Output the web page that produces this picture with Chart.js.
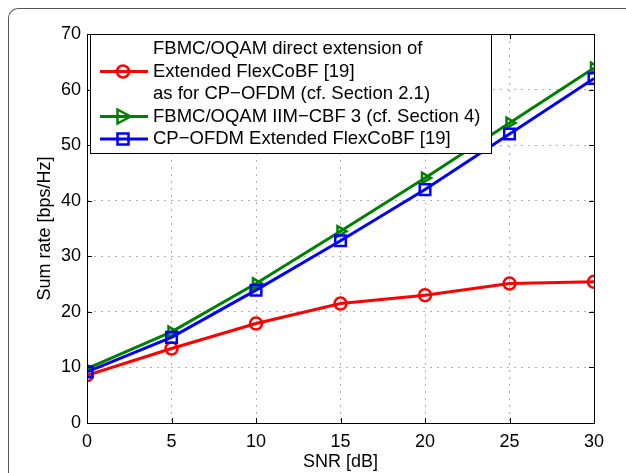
<!DOCTYPE html>
<html>
<head>
<meta charset="utf-8">
<script src="https://cdn.jsdelivr.net/npm/chart.js@4.4.1/dist/chart.umd.min.js"></script>
<style>
  html, body { margin: 0; padding: 0; background: #fff; }
  #wrap { position: relative; width: 626px; height: 473px; }
  #frame {
    position: absolute; left: 8px; top: 8px; right: 0; bottom: 0;
    border-top: 1.5px solid #555; border-left: 1.5px solid #555;
    border-top-left-radius: 10px; pointer-events: none;
  }
</style>
</head>
<body>
<div id="wrap">
  <canvas id="chart" width="626" height="473"></canvas>
  <div id="frame"></div>
</div>
<script>
// SNR values and sum rates
const snr = [0, 5, 10, 15, 20, 25, 30];
const fbmcDirect = [8.6, 13.4, 17.9, 21.5, 23.0, 25.1, 25.4];
const fbmcIim = [9.8, 16.4, 25.1, 34.5, 44.1, 54.0, 63.9];
const cpOfdm = [9.2, 15.4, 23.9, 32.8, 42.0, 52.0, 62.0];
const xTicks = [0, 5, 10, 15, 20, 25, 30];
const yTicks = [0, 10, 20, 30, 40, 50, 60, 70];

const legendItems = [
  { lines: ["FBMC/OQAM direct extension of", "Extended FlexCoBF [19]", "as for CP\u2212OFDM (cf. Section 2.1)"], color: "#ff0000", marker: "circle" },
  { lines: ["FBMC/OQAM IIM\u2212CBF 3 (cf. Section 4)"], color: "#008000", marker: "triangle" },
  { lines: ["CP\u2212OFDM Extended FlexCoBF [19]"], color: "#0000ff", marker: "square" }
];

const FONT = "'Liberation Sans', Arial, Helvetica, sans-serif";

function pts(ys) {
  return ys.map((y, i) => ({ x: snr[i], y }));
}

function drawMarker(ctx, type, x, y, color) {
  ctx.save();
  ctx.strokeStyle = color;
  ctx.lineWidth = 2.5;
  ctx.beginPath();
  if (type === "circle") {
    ctx.arc(x, y, 6, 0, Math.PI * 2);
  } else if (type === "square") {
    ctx.rect(x - 5.5, y - 5.5, 11, 11);
  } else {
    ctx.moveTo(x - 5.5, y - 7);
    ctx.lineTo(x + 7.5, y);
    ctx.lineTo(x - 5.5, y + 7);
    ctx.closePath();
  }
  ctx.stroke();
  ctx.restore();
}

// box, inward ticks and the legend, matlab style
const matlabBox = {
  id: "matlabBox",
  afterDraw(chart) {
    const { ctx, chartArea: a, scales } = chart;
    ctx.save();
    ctx.strokeStyle = "#000";
    ctx.lineWidth = 1;
    ctx.strokeRect(a.left + 0.5, a.top + 0.5, a.right - a.left, a.bottom - a.top);
    ctx.beginPath();
    xTicks.forEach(v => {
      const px = Math.round(scales.x.getPixelForValue(v)) + 0.5;
      ctx.moveTo(px, a.bottom); ctx.lineTo(px, a.bottom - 5);
      ctx.moveTo(px, a.top); ctx.lineTo(px, a.top + 5);
    });
    yTicks.forEach(v => {
      const py = Math.round(scales.y.getPixelForValue(v)) + 0.5;
      ctx.moveTo(a.left, py); ctx.lineTo(a.left + 5, py);
      ctx.moveTo(a.right, py); ctx.lineTo(a.right - 5, py);
    });
    ctx.stroke();

    // legend
    const bx = 90, by = 34, bw = 401, bh = 119;
    ctx.fillStyle = "#fff";
    ctx.fillRect(bx, by, bw, bh);
    ctx.strokeRect(bx + 0.5, by + 0.5, bw, bh);
    ctx.font = "18.5px " + FONT;
    ctx.fillStyle = "#000";
    ctx.textBaseline = "middle";
    let y = 49;
    const step = 22.5;
    legendItems.forEach(item => {
      const mid = y + (item.lines.length - 1) * step / 2;
      ctx.strokeStyle = item.color;
      ctx.lineWidth = 3;
      ctx.beginPath();
      ctx.moveTo(100, mid); ctx.lineTo(148, mid);
      ctx.stroke();
      drawMarker(ctx, item.marker, 123, mid, item.color);
      item.lines.forEach(t => {
        ctx.fillText(t, 153, y);
        y += step;
      });
    });
    ctx.restore();
  }
};

function series(label, data, color, style, order) {
  return {
    label, data: pts(data),
    borderColor: color, backgroundColor: "rgba(0,0,0,0)",
    borderWidth: 3, pointStyle: style,
    pointRadius: style === "rect" ? 7.5 : 6,
    pointRotation: style === "triangle" ? 90 : 0,
    pointBorderWidth: 2.5, pointBorderColor: color,
    pointBackgroundColor: "rgba(0,0,0,0)",
    tension: 0, order
  };
}

new Chart(document.getElementById("chart"), {
  type: "line",
  data: {
    datasets: [
      series("FBMC/OQAM direct extension", fbmcDirect, "#ff0000", "circle", 3),
      series("FBMC/OQAM IIM-CBF 3", fbmcIim, "#008000", "triangle", 2),
      series("CP-OFDM Extended FlexCoBF", cpOfdm, "#0000ff", "rect", 1)
    ]
  },
  options: {
    responsive: false,
    animation: false,
    layout: { padding: { top: 34, right: 32, left: 0, bottom: 0 } },
    plugins: { legend: { display: false }, tooltip: { enabled: false } },
    scales: {
      x: {
        type: "linear", min: 0, max: 30,
        afterBuildTicks: s => { s.ticks = xTicks.map(v => ({ value: v })); },
        afterFit: s => { s.height = 50; },
        grid: { color: "#b0b0b0", borderDash: [2, 5], drawTicks: false },
        border: { display: false, dash: [2, 5] },
        ticks: { color: "#000", padding: 8, font: { family: FONT, size: 18 } },
        title: { display: true, text: "SNR [dB]", color: "#000", padding: { top: 0, bottom: 0 }, font: { family: FONT, size: 18 } }
      },
      y: {
        type: "linear", min: 0, max: 70,
        afterBuildTicks: s => { s.ticks = yTicks.map(v => ({ value: v })); },
        afterFit: s => { s.width = 87; },
        grid: { color: "#b0b0b0", drawTicks: false },
        border: { display: false, dash: [2, 5] },
        ticks: { color: "#000", padding: 6, font: { family: FONT, size: 18 } },
        title: { display: true, text: "Sum rate [bps/Hz]", color: "#000", padding: { top: 34, bottom: 0 }, font: { family: FONT, size: 18 } }
      }
    }
  },
  plugins: [matlabBox]
});
</script>
</body>
</html>
